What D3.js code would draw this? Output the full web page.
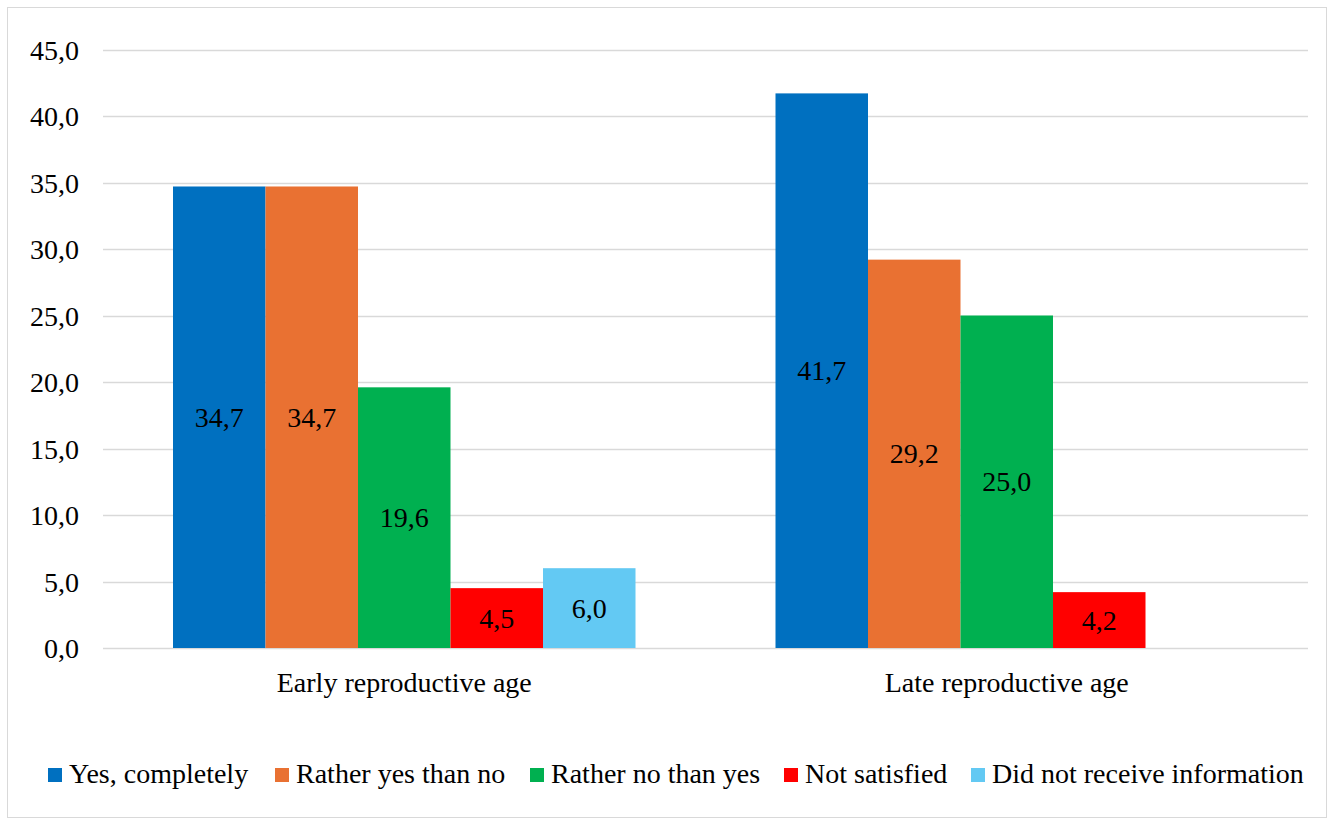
<!DOCTYPE html>
<html>
<head>
<meta charset="utf-8">
<script src="https://cdn.jsdelivr.net/npm/d3@7"></script>
<style>
  body { margin: 0; background: #fff; }
</style>
</head>
<body>
<svg id="chart" width="1333" height="825" font-family="Liberation Serif, Times New Roman, serif" font-size="28"></svg>
<script>
// Survey answers by age group (percent)
const categories = ["Early reproductive age", "Late reproductive age"];
const seriesNames = ["Yes, completely", "Rather yes than no", "Rather no than yes", "Not satisfied", "Did not receive information"];
const seriesColors = ["#0070C0", "#E97132", "#00B050", "#FF0000", "#63C9F3"];
const earlyValues = [34.7, 34.7, 19.6, 4.5, 6.0];
const lateValues = [41.7, 29.2, 25.0, 4.2, null];
const yTicks = [0, 5, 10, 15, 20, 25, 30, 35, 40, 45];

const valuesByCategory = [earlyValues, lateValues];
const fmt = v => v.toFixed(1).replace(".", ",");
const FONT = "Liberation Serif, Times New Roman, serif";
const FONT_SIZE = 28;

const svg = d3.select("#chart");

// outer frame
svg.append("rect")
  .attr("x", 7.5).attr("y", 7.5)
  .attr("width", 1319).attr("height", 810)
  .attr("fill", "#fff").attr("stroke", "#d9d9d9").attr("stroke-width", 1);

const plot = { left: 103, right: 1308, top: 49.5, bottom: 648 };

const y = d3.scaleLinear().domain([0, 45]).range([plot.bottom, plot.top]);
const x0 = d3.scaleBand().domain(categories).range([plot.left, plot.right]).paddingInner(0).paddingOuter(0);
const x1 = d3.scaleBand().domain(seriesNames).range([70, x0.bandwidth() - 70]);

// gridlines
svg.append("g")
  .selectAll("line")
  .data(yTicks)
  .join("line")
  .attr("x1", plot.left).attr("x2", plot.right)
  .attr("y1", d => Math.round(y(d)) + 0.5).attr("y2", d => Math.round(y(d)) + 0.5)
  .attr("stroke", "#d9d9d9").attr("stroke-width", 1.3);

// y axis labels
const yAxis = d3.axisLeft(y).tickValues(yTicks).tickFormat(fmt).tickSize(0).tickPadding(0);
const yg = svg.append("g").attr("transform", `translate(79,0)`).call(yAxis)
  .attr("font-family", FONT).attr("font-size", FONT_SIZE);
yg.select(".domain").remove();
yg.selectAll("text").attr("fill", "#000").attr("dy", "0.34em");

// bars
const rows = [];
categories.forEach((c, ci) => {
  seriesNames.forEach((s, si) => {
    const v = valuesByCategory[ci][si];
    if (v !== null) rows.push({ cat: c, series: s, value: v, color: seriesColors[si] });
  });
});

const barG = svg.append("g");
barG.selectAll("rect")
  .data(rows)
  .join("rect")
  .attr("x", d => x0(d.cat) + x1(d.series))
  .attr("y", d => y(d.value))
  .attr("width", x1.bandwidth())
  .attr("height", d => y(0) - y(d.value))
  .attr("fill", d => d.color);

// value labels in the middle of each bar
barG.selectAll("text")
  .data(rows)
  .join("text")
  .attr("x", d => x0(d.cat) + x1(d.series) + x1.bandwidth() / 2)
  .attr("y", d => (y(d.value) + y(0)) / 2)
  .attr("dy", "0.34em")
  .attr("text-anchor", "middle")
  .attr("fill", "#000")
  .text(d => fmt(d.value));

// category axis labels
const xAxis = d3.axisBottom(x0).tickSize(0).tickPadding(0);
const xg = svg.append("g").attr("transform", `translate(0,${plot.bottom + 44})`).call(xAxis)
  .attr("font-family", FONT).attr("font-size", FONT_SIZE);
xg.select(".domain").remove();
xg.selectAll("text").attr("fill", "#000").attr("dy", 0);

// legend
const legendX = [48, 275, 530, 784, 971];
const legend = svg.append("g");
const items = legend.selectAll("g")
  .data(seriesNames)
  .join("g")
  .attr("transform", (d, i) => `translate(${legendX[i]},768)`);
items.append("rect")
  .attr("width", 14).attr("height", 14)
  .attr("fill", (d, i) => seriesColors[i]);
items.append("text")
  .attr("x", 21).attr("y", 15)
  .attr("fill", "#000")
  .text(d => d);
</script>
</body>
</html>
